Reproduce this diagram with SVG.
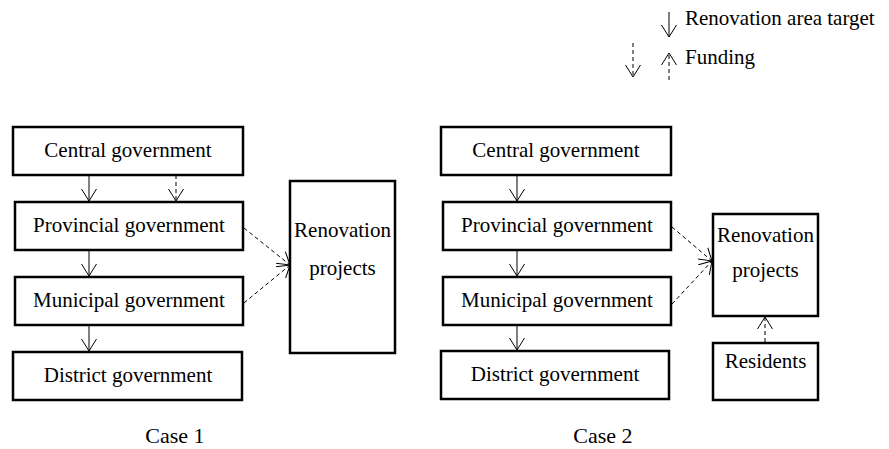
<svg xmlns="http://www.w3.org/2000/svg" width="889" height="449" viewBox="0 0 889 449">
<style>
.box{fill:#fff;stroke:#000;stroke-width:2.5}
text{font-family:"Liberation Serif","Times New Roman",serif;font-size:21px;fill:#000}
.c{text-anchor:middle}
.ln{fill:none;stroke:#000;stroke-width:1}
.ds{stroke-dasharray:4,3}
</style>
<defs>
<marker id="ah" markerUnits="userSpaceOnUse" markerWidth="20" markerHeight="20" refX="12" refY="8" orient="auto" viewBox="0 0 20 16">
<path d="M0,0.5 L12,8 L0,15.5" fill="none" stroke="#000" stroke-width="1"/>
</marker>
</defs>
<g id="legend">
<line class="ln" x1="669" y1="12" x2="669" y2="37" marker-end="url(#ah)"/>
<text x="685" y="25">Renovation area target</text>
<line class="ln ds" x1="633" y1="43" x2="633" y2="77" marker-end="url(#ah)"/>
<line class="ln ds" x1="669" y1="80" x2="669" y2="53" marker-end="url(#ah)"/>
<text x="685" y="64">Funding</text>
</g>
<g id="c1-central"><rect class="box" x="13" y="127" width="230" height="48"/><text class="c" x="128" y="157">Central government</text></g>
<g id="c1-provincial"><rect class="box" x="15" y="202" width="228" height="48"/><text class="c" x="129" y="232">Provincial government</text></g>
<g id="c1-municipal"><rect class="box" x="15" y="277" width="228" height="48"/><text class="c" x="129" y="307">Municipal government</text></g>
<g id="c1-district"><rect class="box" x="13" y="352" width="229" height="48"/><text class="c" x="128" y="382">District government</text></g>
<g id="c1-renovation"><rect class="box" x="290" y="181" width="105" height="172"/><text class="c" x="342.5" y="237">Renovation</text><text class="c" x="342.5" y="275">projects</text></g>
<g id="c2-central"><rect class="box" x="441" y="127" width="230" height="48"/><text class="c" x="556" y="157">Central government</text></g>
<g id="c2-provincial"><rect class="box" x="443" y="202" width="228" height="48"/><text class="c" x="557" y="232">Provincial government</text></g>
<g id="c2-municipal"><rect class="box" x="443" y="277" width="228" height="48"/><text class="c" x="557" y="307">Municipal government</text></g>
<g id="c2-district"><rect class="box" x="441" y="351" width="228" height="48"/><text class="c" x="555" y="381">District government</text></g>
<g id="c2-renovation"><rect class="box" x="713" y="214" width="105" height="102"/><text class="c" x="765.5" y="242">Renovation</text><text class="c" x="765.5" y="277">projects</text></g>
<g id="c2-residents"><rect class="box" x="713" y="343" width="105" height="57"/><text class="c" x="765.5" y="368">Residents</text></g>
<g id="connectors">
<line class="ln" x1="89" y1="175" x2="89" y2="201" marker-end="url(#ah)"/>
<line class="ln ds" x1="176" y1="175" x2="176" y2="201" marker-end="url(#ah)"/>
<line class="ln" x1="89" y1="250" x2="89" y2="276" marker-end="url(#ah)"/>
<line class="ln" x1="89" y1="325" x2="89" y2="351" marker-end="url(#ah)"/>
<line class="ln ds" x1="244" y1="228" x2="290" y2="265" marker-end="url(#ah)"/>
<line class="ln ds" x1="244" y1="303" x2="290" y2="265" marker-end="url(#ah)"/>
<line class="ln" x1="517" y1="175" x2="517" y2="201" marker-end="url(#ah)"/>
<line class="ln" x1="517" y1="250" x2="517" y2="276" marker-end="url(#ah)"/>
<line class="ln" x1="517" y1="325" x2="517" y2="350" marker-end="url(#ah)"/>
<line class="ln ds" x1="672" y1="227" x2="712" y2="261" marker-end="url(#ah)"/>
<line class="ln ds" x1="672" y1="304" x2="712" y2="261" marker-end="url(#ah)"/>
<line class="ln ds" x1="765" y1="342" x2="765" y2="317" marker-end="url(#ah)"/>
</g>
<g id="labels">
<text class="c" x="175" y="443" style="font-size:22px">Case 1</text>
<text class="c" x="603" y="443" style="font-size:22px">Case 2</text>
</g>
</svg>
